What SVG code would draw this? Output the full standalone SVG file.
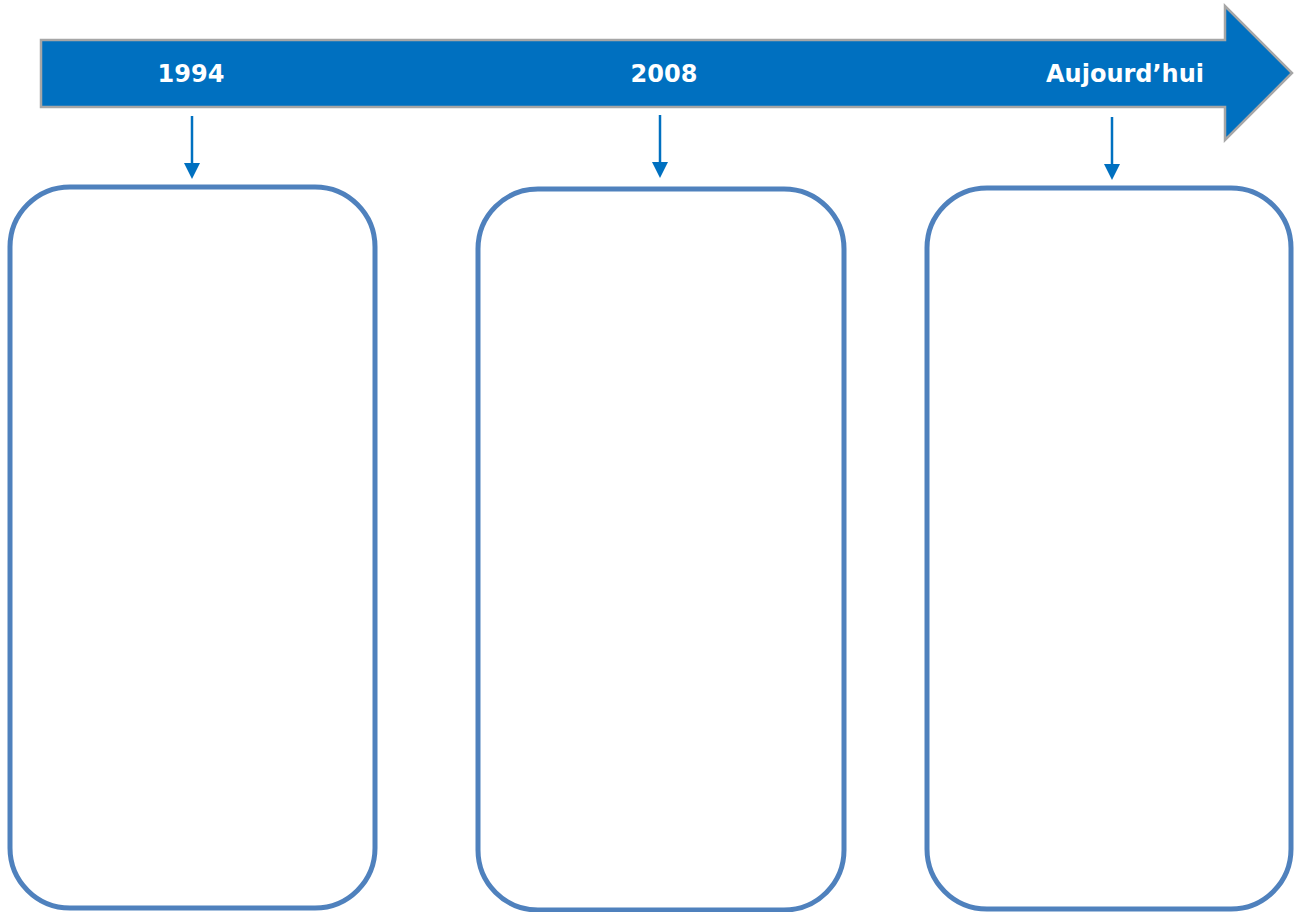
<svg xmlns="http://www.w3.org/2000/svg" width="1295" height="912" viewBox="0 0 1295 912">
<defs>
<style>
.lbl{font-family:"DejaVu Sans","Verdana",sans-serif;font-weight:bold;font-size:24px;fill:#FFFFFF;text-anchor:middle}
.box{fill:#FFFFFF;stroke:#4F81BD;stroke-width:5}
.conn{stroke:#0070C0;stroke-width:2.5;fill:none}
.head{fill:#0070C0}
</style>
</defs>
<rect width="1295" height="912" fill="#FFFFFF"/>
<g id="timeline">
<path d="M41,40 L1225,40 L1225,6 L1292,73 L1225,140 L1225,107 L41,107 Z" fill="#0070C0" stroke="#A6A6A6" stroke-width="2.5"/>
<text class="lbl" x="191" y="82">1994</text>
<text class="lbl" x="664" y="82">2008</text>
<text class="lbl" x="1125" y="82">Aujourd’hui</text>
</g>
<g id="box1"><rect class="box" x="10" y="187" width="365" height="721" rx="60" ry="60"/></g>
<g id="box2"><rect class="box" x="478" y="189" width="366" height="721" rx="60" ry="60"/></g>
<g id="box3"><rect class="box" x="927" y="188" width="364" height="721" rx="60" ry="60"/></g>
<g id="connectors">
<line class="conn" x1="192" y1="116" x2="192" y2="165"/>
<path class="head" d="M184,163 L200,163 L192,179 Z"/>
<line class="conn" x1="660" y1="115" x2="660" y2="164"/>
<path class="head" d="M652,162 L668,162 L660,178 Z"/>
<line class="conn" x1="1112" y1="117" x2="1112" y2="166"/>
<path class="head" d="M1104,164 L1120,164 L1112,180 Z"/>
</g>
</svg>
